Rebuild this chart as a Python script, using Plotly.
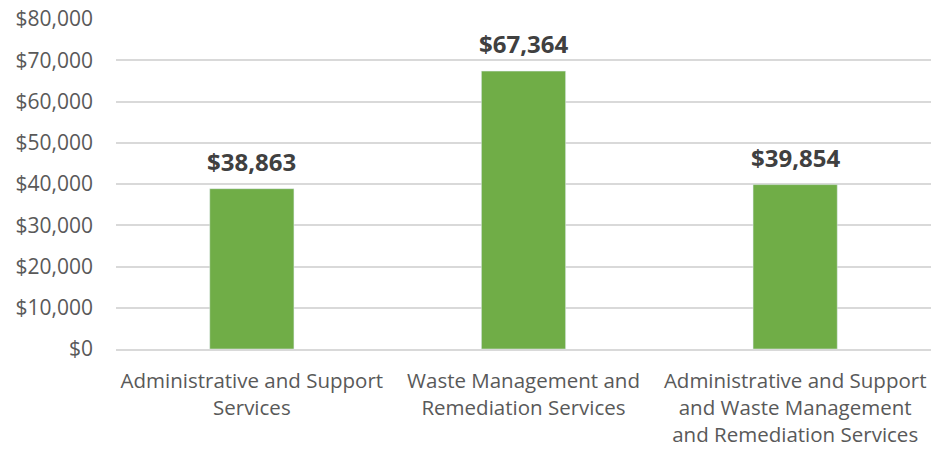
import plotly.graph_objects as go

categories = [
    "Administrative and Support<br>Services",
    "Waste Management and<br>Remediation Services",
    "Administrative and Support<br>and Waste Management<br>and Remediation Services",
]
values = [38863, 67364, 39854]
tick_vals = [0, 10000, 20000, 30000, 40000, 50000, 60000, 70000, 80000]
tick_text = ["$0", "$10,000", "$20,000", "$30,000", "$40,000", "$50,000", "$60,000", "$70,000", "$80,000"]

FONT = "Open Sans, sans-serif"

fig = go.Figure(go.Bar(
    x=categories, y=values,
    marker_color="#70AD47",
    width=0.31,
    cliponaxis=False,
))
for c, v in zip(categories, values):
    fig.add_annotation(x=c, y=v, text=f"<b>${v:,}</b>", showarrow=False,
                       yanchor="bottom", yshift=9,
                       font=dict(family=FONT, size=24, color="#404040"))
fig.update_layout(
    width=931, height=449,
    margin=dict(l=116, r=0, t=19, b=100, autoexpand=False),
    plot_bgcolor="white", paper_bgcolor="white",
    showlegend=False,
    font=dict(family=FONT, size=21, color="#595959"),
)
fig.update_yaxes(range=[0, 80000], tickvals=tick_vals, ticktext=tick_text,
                 showgrid=True, gridcolor="#D9D9D9", gridwidth=1.5,
                 zeroline=False, showline=False, ticklabelstandoff=22,
                 automargin=False, ticklabeloverflow="allow",
                 tickfont=dict(family=FONT, size=21, color="#595959"))
fig.update_xaxes(showline=True, linecolor="#D9D9D9", linewidth=1.5,
                 automargin=False, ticklabeloverflow="allow",
                 tickfont=dict(family=FONT, size=20.5, color="#595959"), ticklabelstandoff=13)
fig.write_html(
    "out.html",
    config={"displayModeBar": False},
    post_script="document.body.style.margin='0px';document.body.style.overflow='hidden';",
)
